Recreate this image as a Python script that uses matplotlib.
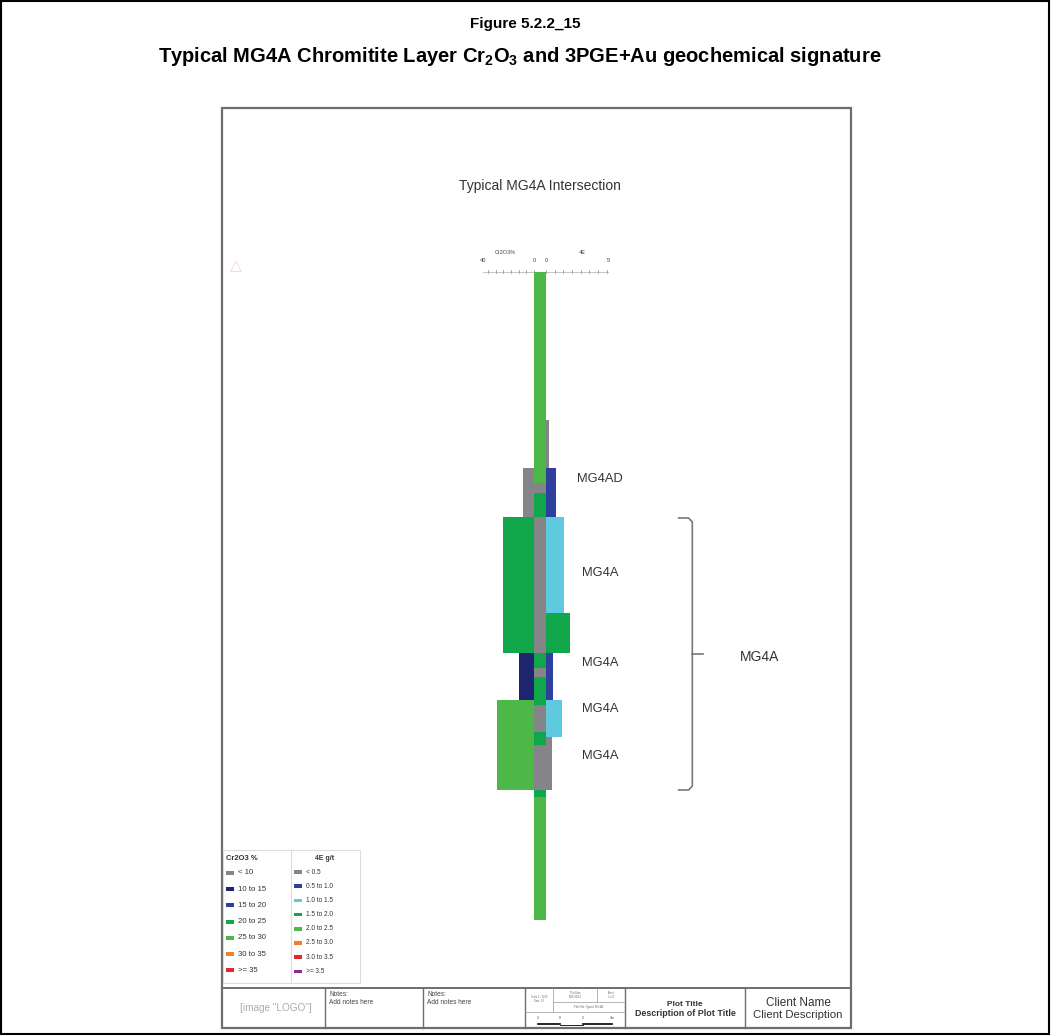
import matplotlib
matplotlib.use("Agg")
import matplotlib.pyplot as plt

plt.rcParams['font.family'] = ['Liberation Sans', 'DejaVu Sans']
plt.rcParams['mathtext.fontset'] = 'custom'
plt.rcParams['mathtext.rm'] = 'Liberation Sans'
plt.rcParams['mathtext.bf'] = 'Liberation Sans:bold'

# grade classes used for colouring the bars
cr_bins = [10, 15, 20, 25, 30, 35]
cr_labels = ['< 10', '10 to 15', '15 to 20', '20 to 25', '25 to 30', '30 to 35', '>= 35']
cr_colors = ['#858488', '#1e2470', '#2f3f9e', '#10a64a', '#4db848', '#f0822e', '#e5272c']

pge_bins = [0.5, 1.0, 1.5, 2.0, 2.5, 3.0, 3.5]
pge_labels = ['< 0.5', '0.5 to 1.0', '1.0 to 1.5', '1.5 to 2.0', '2.0 to 2.5',
              '2.5 to 3.0', '3.0 to 3.5', '>= 3.5']
pge_colors = ['#858488', '#2f3f9e', '#5fc9dd', '#10a64a', '#4db848',
              '#f0822e', '#e5272c', '#8d2b9b']

# centre core column (depth m)
core_from = [0.00, 2.11, 2.21, 2.45, 3.81, 3.96, 4.05, 4.33, 4.60, 4.73, 5.18, 5.25]
core_to = [2.11, 2.21, 2.45, 3.81, 3.96, 4.05, 4.33, 4.60, 4.73, 5.18, 5.25, 6.48]
core_class = [4, 0, 3, 0, 3, 0, 3, 0, 3, 0, 3, 4]

# Cr2O3 % samples
cr_from = [1.96, 2.45, 3.81, 4.28]
cr_to = [2.45, 3.81, 4.28, 5.18]
cr_value = [8.6, 24.3, 11.5, 29.0]

# 4E g/t samples
pge_from = [1.48, 1.96, 2.45, 3.41, 3.81, 4.28, 4.65]
pge_to = [1.96, 2.45, 3.41, 3.81, 4.28, 4.65, 5.18]
pge_value = [0.24, 0.80, 1.45, 1.95, 0.56, 1.29, 0.48]

# reef labels
reef_names = ['MG4AD', 'MG4A', 'MG4A', 'MG4A', 'MG4A']
reef_depth = [2.07, 3.01, 3.91, 4.37, 4.84]
reef_x = [2.5, 2.9, 2.9, 2.9, 2.9]
unit_name = 'MG4A'
unit_top, unit_base = 2.46, 5.18

log_top, log_base = 0.0, 6.48


def class_color(v, bins, colors):
    for b, c in zip(bins, colors):
        if v < b:
            return c
    return colors[-1]


W, H = 1051, 1036
fig = plt.figure(figsize=(W / 100, H / 100), dpi=100)

# page layer in pixel units
page = fig.add_axes([0, 0, 1, 1])
page.set_xlim(0, W)
page.set_ylim(H, 0)
page.axis('off')


def px_axes(x0, y0, x1, y1):
    return fig.add_axes([x0 / W, 1 - y1 / H, (x1 - x0) / W, (y1 - y0) / H])


# outer border and sheet frame
page.add_patch(plt.Rectangle((1, 1), W - 3, H - 3, fill=False, ec='black', lw=1.5))
page.add_patch(plt.Rectangle((222, 108), 629, 920, fill=False, ec='#6e6e6e', lw=1.6))

page.text(525, 24, 'Figure 5.2.2_15', ha='center', va='center', fontsize=11, fontweight='bold')
page.text(520, 56, r'Typical MG4A Chromitite Layer Cr$_\mathbf{2}$O$_\mathbf{3}$ and 3PGE+Au geochemical signature',
          ha='center', va='center', fontsize=14.5, fontweight='bold')
page.text(540, 186, 'Typical MG4A Intersection', ha='center', va='center', fontsize=10, color='#333333')
page.text(236, 266, '\u25b3', ha='center', va='center', fontsize=11, color='#f3d2d2',
          family='DejaVu Sans')

# strip log tracks
ax_cr = px_axes(483, 272, 534, 920)
ax_core = px_axes(534, 272, 546, 920)
ax_pge = px_axes(546, 272, 608, 920)
for ax in (ax_cr, ax_core, ax_pge):
    ax.set_ylim(log_base, log_top)
    ax.axis('off')
    ax.patch.set_alpha(0)
ax_cr.set_xlim(40, 0)
ax_core.set_xlim(0, 1)
ax_pge.set_xlim(0, 5)

for a, b, c in zip(core_from, core_to, core_class):
    ax_core.barh(a, 1, height=b - a, align='edge', color=cr_colors[c], lw=0)
for a, b, v in zip(cr_from, cr_to, cr_value):
    ax_cr.barh(a, v, height=b - a, align='edge', color=class_color(v, cr_bins, cr_colors), lw=0)
for a, b, v in zip(pge_from, pge_to, pge_value):
    ax_pge.barh(a, v, height=b - a, align='edge', color=class_color(v, pge_bins, pge_colors), lw=0)

# scale ruler across the top of the log
ax_cr.plot([40, 0], [0, 0], color='#bbbbbb', lw=0.6, clip_on=False)
ax_pge.plot([0, 5], [0, 0], color='#bbbbbb', lw=0.6, clip_on=False)
for t in range(0, 41, 6):
    ax_cr.plot([t, t], [-0.02, 0.01], color='#999999', lw=0.6, clip_on=False)
for t in [0.7 * i for i in range(8)]:
    ax_pge.plot([t, t], [-0.02, 0.01], color='#999999', lw=0.6, clip_on=False)
ax_cr.text(40, -0.11, '40', ha='center', va='center', fontsize=4.2, color='#444444')
ax_cr.text(0, -0.11, '0', ha='center', va='center', fontsize=4.2, color='#444444')
ax_pge.text(0, -0.11, '0', ha='center', va='center', fontsize=4.2, color='#444444')
ax_pge.text(5, -0.11, '5', ha='center', va='center', fontsize=4.2, color='#444444')
ax_cr.text(22.7, -0.19, 'Cr2O3%', ha='center', va='center', fontsize=4, color='#444444')
ax_pge.text(2.9, -0.19, '4E', ha='center', va='center', fontsize=4, color='#444444')

for name, d, x in zip(reef_names, reef_depth, reef_x):
    ax_pge.text(x, d, name, ha='left', va='center', fontsize=9.3, color='#333333')

# bracket grouping the MG4A unit
bx, hook = 11.8, 1.1
mid = (unit_top + unit_base) / 2
ax_pge.plot([bx - hook, bx - 0.3, bx, bx, bx - 0.3, bx - hook],
            [unit_top, unit_top, unit_top + 0.04, unit_base - 0.04, unit_base, unit_base],
            color='#777777', lw=1.2, clip_on=False)
ax_pge.plot([bx, bx + 0.9], [mid, mid], color='#777777', lw=1.2, clip_on=False)
ax_pge.text(15.6, mid + 0.03, unit_name, ha='left', va='center', fontsize=10, color='#333333')

# legend box
page.add_patch(plt.Rectangle((223, 850), 137, 133, fill=False, ec='#dddddd', lw=0.8))
page.plot([291, 291], [850, 983], color='#dddddd', lw=0.8)
page.text(226, 858, 'Cr2O3 %', ha='left', va='center', fontsize=5.5, fontweight='bold', color='#333333')
page.text(325, 858, '4E g/t', ha='center', va='center', fontsize=5, fontweight='bold', color='#333333')
for i, (lab, c) in enumerate(zip(cr_labels, cr_colors)):
    y = 873 + i * 16.2
    page.add_patch(plt.Rectangle((226, y - 2), 8, 4, color=c, lw=0))
    page.text(238, y, lab, ha='left', va='center', fontsize=5.6, color='#333333')
for i, (lab, c) in enumerate(zip(pge_labels, pge_colors)):
    y = 872 + i * 14.2
    page.add_patch(plt.Rectangle((294, y - 1.8), 8, 3.6, color=c, lw=0))
    page.text(306, y, lab, ha='left', va='center', fontsize=4.7, color='#333333')

# title block
tb_top, tb_bot = 988, 1028
page.plot([222, 851], [tb_top, tb_top], color='#6e6e6e', lw=1.4)
for x in [325, 423, 525, 625, 745]:
    page.plot([x, x], [tb_top, tb_bot], color='#6e6e6e', lw=1.0)
page.text(276, 1008, '[image "LOGO"]', ha='center', va='center', fontsize=7.2, color='#aaaaaa')
for x in [329, 427]:
    page.text(x, 994, 'Notes:', ha='left', va='center', fontsize=4.7, color='#444444')
    page.text(x, 1003, 'Add notes here', ha='left', va='center', fontsize=4.7, color='#444444')
page.plot([553, 553], [tb_top, 1012], color='#999999', lw=0.5)
page.plot([597, 597], [tb_top, 1002], color='#999999', lw=0.5)
page.plot([553, 625], [1002, 1002], color='#999999', lw=0.5)
page.plot([525, 625], [1012, 1012], color='#999999', lw=0.5)
page.text(539, 999, 'Scale 1 : 1000\nDate: 01', ha='center', va='center', fontsize=1.8, color='#666666')
page.text(575, 995, 'Plot Date\n2016/03/14', ha='center', va='center', fontsize=1.8, color='#666666')
page.text(611, 995, 'Sheet\n1 of 1', ha='center', va='center', fontsize=1.8, color='#666666')
page.text(589, 1007, 'Plot File: Typical MG4A', ha='center', va='center', fontsize=2, color='#666666')
for x, lab in zip([538, 560, 583, 612], ['2', '0', '2', '4m']):
    page.text(x, 1018, lab, ha='center', va='center', fontsize=2.5, color='#444444')
page.plot([538, 560], [1024, 1024], color='black', lw=1.2)
page.plot([560, 583], [1025, 1025], color='black', lw=0.6)
page.plot([583, 612], [1024, 1024], color='black', lw=1.2)
page.text(685, 1004, 'Plot Title', ha='center', va='center', fontsize=6, fontweight='bold', color='#333333')
page.text(685, 1013, 'Description of Plot Title', ha='center', va='center', fontsize=6.4, fontweight='bold',
          color='#333333')
page.text(798, 1003, 'Client Name', ha='center', va='center', fontsize=8.5, color='#333333')
page.text(798, 1015, 'Client Description', ha='center', va='center', fontsize=8.2, color='#333333')

fig.savefig('out.png', dpi=100)
